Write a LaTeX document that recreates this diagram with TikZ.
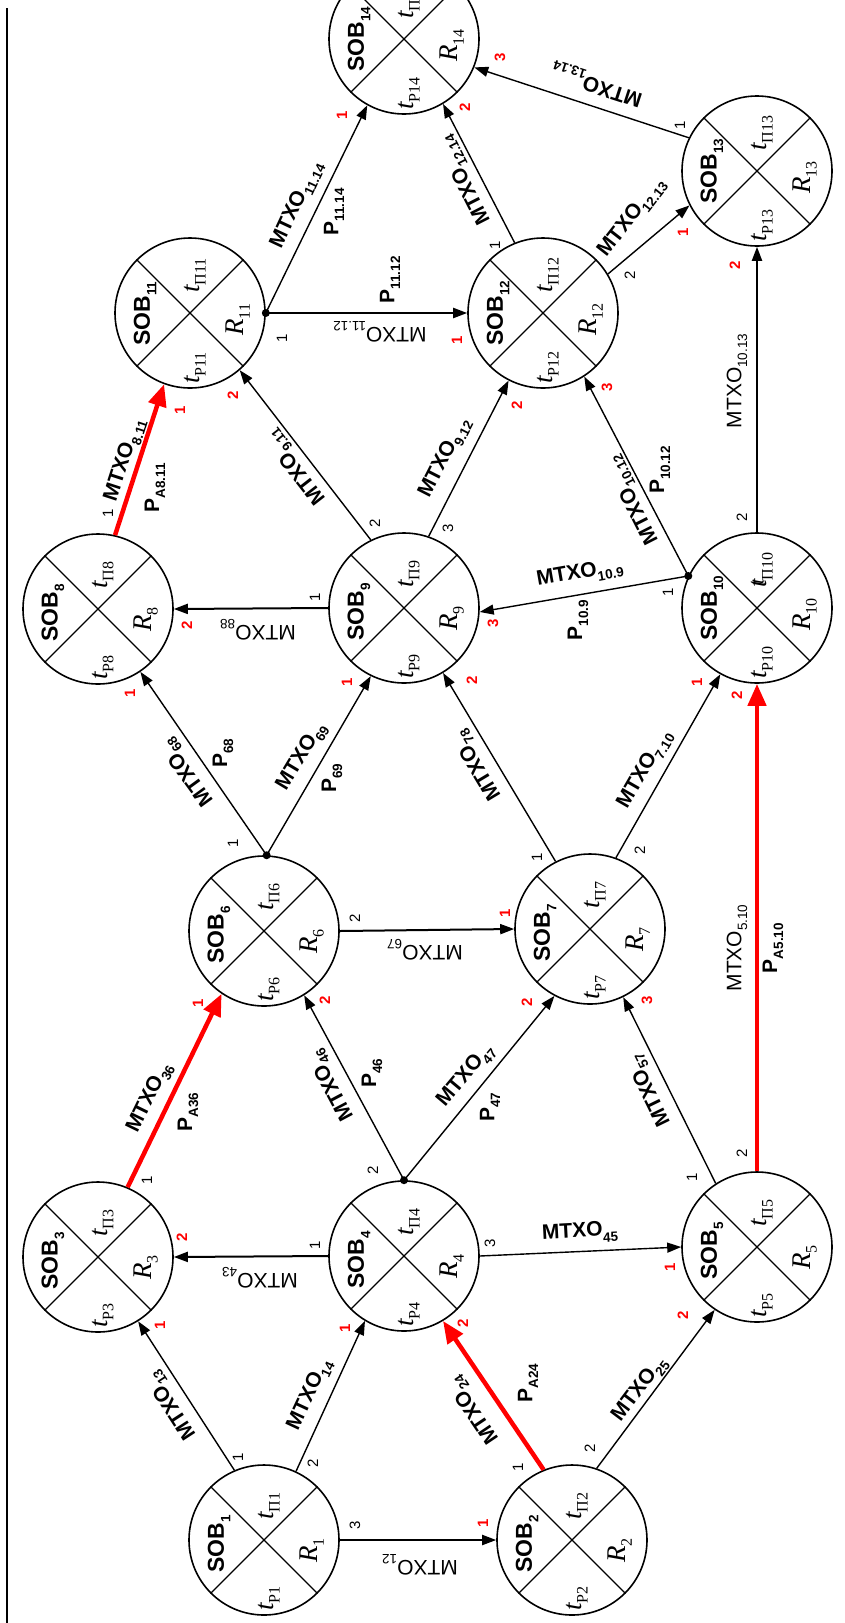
\documentclass[tikz,border=0pt]{standalone}
\usepackage{fontspec}
\setmainfont{Liberation Serif}
\setsansfont{Liberation Sans}
\usetikzlibrary{arrows.meta}
\newcommand{\ls}[1]{\raisebox{-0.28em}{\fontsize{13.5}{13.5}\selectfont #1}}
\newcommand{\vs}[1]{\raisebox{-0.22em}{\fontsize{16}{16}\selectfont\upshape #1}}
\tikzset{
  sob/.style={circle, draw, line width=1.6pt, minimum size=150pt, inner sep=0pt},
  conn/.style={line width=1.4pt, -{Triangle[length=14pt,width=10pt]}},
  connh/.style={line width=2pt, -{Triangle[length=14pt,width=10pt]}},
  redconn/.style={draw=red, line width=4.5pt, -{Triangle[length=22pt,width=18pt]}},
  mtxo/.style={font=\sffamily\bfseries\fontsize{21}{21}\selectfont, inner sep=0pt},
  mtxor/.style={font=\sffamily\fontsize{21}{21}\selectfont, inner sep=0pt},
  plab/.style={font=\sffamily\bfseries\fontsize{21}{21}\selectfont, inner sep=0pt, rotate=90},
  port/.style={font=\sffamily\fontsize{15}{15}\selectfont, inner sep=0pt, rotate=90},
  rport/.style={font=\sffamily\bfseries\fontsize{15}{15}\selectfont, text=red, inner sep=0pt, rotate=90},
  soblab/.style={font=\sffamily\bfseries\fontsize{23}{23}\selectfont, inner sep=0pt, rotate=90, anchor=west},
  varlab/.style={font=\itshape\fontsize{27}{27}\selectfont, inner sep=0pt, rotate=90, anchor=west},
}
\newcommand{\sobnode}[4]{%
  \node[sob] (#1) at (#2,#3) {};
  \draw[line width=1.3pt] (#1.45) -- (#1.225) (#1.135) -- (#1.-45);
  \node[soblab] (#1sob) at (#2-45,#3+33) {SOB\ls{#4}};
  \node[varlab] (#1tp) at (#2+5,#3-20) {t\vs{П#4}};
  \node[varlab] (#1r) at (#2+48,#3+23) {R\vs{#4}};
  \node[varlab] (#1tr) at (#2+5,#3+71) {t\vs{P#4}};
}
\begin{document}
\begin{tikzpicture}[x=1pt,y=-1pt]
\useasboundingbox (0,0) rectangle (845,1623);
\clip (0,0) rectangle (845,1623);
\fill[white] (0,0) rectangle (845,1623);
\coordinate (ft) at (7,8);
\coordinate (fb) at (7,1623);
\draw[line width=1.6pt] (ft) -- (fb);

\sobnode{s1}{264}{1540}{1}
\sobnode{s2}{572}{1540}{2}
\sobnode{s3}{98}{1257}{3}
\sobnode{s4}{404}{1256}{4}
\sobnode{s5}{757}{1247}{5}
\sobnode{s6}{264}{931}{6}
\sobnode{s7}{590}{929}{7}
\sobnode{s8}{98}{609}{8}
\sobnode{s9}{404}{608}{9}
\sobnode{s10}{757}{608}{10}
\sobnode{s11}{190}{313}{11}
\sobnode{s12}{543}{313}{12}
\sobnode{s13}{757}{171}{13}
\sobnode{s14}{404}{39}{14}
\node[varlab, anchor=center, font=\itshape\fontsize{20}{20}\selectfont] (s10x) at (758,582) {t};

\coordinate (d4) at (s4.90);
\coordinate (d6) at (s6.88);
\coordinate (d10) at (s10.155);
\coordinate (d11) at (s11.0);
\foreach \d in {d4,d6,d10,d11} \fill (\d) circle (4pt);

% connectors
\draw[conn] (s1.113) -- (s3.-58);
\draw[conn] (s1.65) -- (s4.-121);
\draw[connh] (s1.0) -- (s2.180);
\draw[redconn] (s2.112) -- (s4.-59);
\draw[conn] (s2.71) -- (s5.-124);
\draw[connh] (s4.180) -- (s3.0);
\draw[conn] (s4.0) -- (s5.180);
\draw[conn] (d4) -- (s6.-58);
\draw[conn] (d4) -- (s7.-118);
\draw[conn] (s5.123) -- (s7.-64);
\draw[redconn] (s5.90) -- (s10.-90);
\draw[connh] (s6.0) -- (s7.180);
\draw[redconn] (s3.67) -- (s6.-124);
\draw[conn] (d6) -- (s8.-56);
\draw[conn] (d6) -- (s9.-116);
\draw[conn] (s7.117) -- (s9.-59);
\draw[conn] (s7.70) -- (s10.-119);
\draw[connh] (s9.180) -- (s8.0);
\draw[redconn] (s8.77) -- (s11.-110);
\draw[conn] (s9.116) -- (s11.-49);
\draw[conn] (s9.71) -- (s12.-117);
\draw[conn] (d10) -- (s9.-3);
\draw[conn] (d10) -- (s12.-57);
\draw[connh] (s10.90) -- (s13.-90);
\draw[connh] (d11) -- (s12.180);
\draw[conn] (d11) -- (s14.-119);
\draw[conn] (s12.112) -- (s14.-59);
\draw[conn] (s12.31) -- (s13.-153);
\draw[conn] (s13.154) -- (s14.-22);

% edge labels
\node[mtxo, rotate=123] (m13) at (172,1405) {MTXO\ls{13}};
\node[mtxo, rotate=65] (m14) at (310,1395) {MTXO\ls{14}};
\node[mtxor, rotate=180] (m12) at (420,1565) {MTXO\ls{12}};
\node[mtxo, rotate=124] (m24) at (474,1410) {MTXO\ls{24}};
\node[plab] (p24) at (528,1383) {P\ls{A24}};
\node[mtxo, rotate=53] (m25) at (640,1390) {MTXO\ls{25}};
\node[mtxor, rotate=180] (m43) at (260,1278) {MTXO\ls{43}};
\node[mtxo, rotate=3] (m45) at (580,1233) {MTXO\ls{45}};
\node[mtxo, rotate=118] (m46) at (332,1085) {MTXO\ls{46}};
\node[plab] (p46) at (372,1073) {P\ls{46}};
\node[mtxo, rotate=50] (m47) at (466,1076) {MTXO\ls{47}};
\node[plab] (p47) at (490,1107) {P\ls{47}};
\node[mtxo, rotate=116] (m57) at (650,1090) {MTXO\ls{57}};
\node[mtxor, rotate=90] (m510) at (737,948) {MTXO\ls{5.10}};
\node[plab] (p510) at (773,948) {P\ls{A5.10}};
\node[mtxor, rotate=180] (m67) at (425,950) {MTXO\ls{67}};
\node[mtxo, rotate=64] (m36) at (150,1098) {MTXO\ls{36}};
\node[plab] (p36) at (188,1112) {P\ls{A36}};
\node[mtxo, rotate=126] (m68) at (188,772) {MTXO\ls{68}};
\node[plab] (p68) at (223,753) {P\ls{68}};
\node[mtxo, rotate=59] (m69) at (302,757) {MTXO\ls{69}};
\node[plab] (p69) at (332,778) {P\ls{69}};
\node[mtxo, rotate=121] (m78) at (478,765) {MTXO\ls{78}};
\node[mtxo, rotate=60] (m710) at (645,770) {MTXO\ls{7.10}};
\node[mtxor, rotate=180] (m98) at (258,630) {MTXO\ls{88}};
\node[mtxo, rotate=72] (m811) at (125,460) {MTXO\ls{8.11}};
\node[plab] (p811) at (155,488) {P\ls{A8.11}};
\node[mtxo, rotate=128] (m911) at (296,467) {MTXO\ls{9.11}};
\node[mtxo, rotate=63] (m912) at (445,458) {MTXO\ls{9.12}};
\node[mtxo, rotate=10] (m109) at (580,574) {MTXO\ls{10.9}};
\node[plab] (p109) at (578,620) {P\ls{10.9}};
\node[mtxo, rotate=117] (m1012) at (633,500) {MTXO\ls{10.12}};
\node[plab] (p1012) at (660,470) {P\ls{10.12}};
\node[mtxor, rotate=90] (m1013) at (737,381) {MTXO\ls{10.13}};
\node[mtxor, rotate=180] (m1112) at (380,332) {MTXO\ls{11.12}};
\node[plab] (p1112) at (390,280) {P\ls{11.12}};
\node[mtxo, rotate=65] (m1114) at (297,205) {MTXO\ls{11.14}};
\node[plab] (p1114) at (334,212) {P\ls{11.14}};
\node[mtxo, rotate=117] (m1214) at (465,180) {MTXO\ls{12.14}};
\node[mtxo, rotate=52] (m1213) at (632,218) {MTXO\ls{12.13}};
\node[mtxo, rotate=162] (m1314) at (597,84) {MTXO\ls{13.14}};

% black port numbers
\node[port] (b1a) at (238,1457) {1};
\node[port] (b1b) at (313,1463) {2};
\node[port] (b1c) at (355,1525) {3};
\node[port] (b2a) at (518,1467) {1};
\node[port] (b2b) at (590,1448) {2};
\node[port] (b3a) at (147,1180) {1};
\node[port] (b4a) at (315,1245) {1};
\node[port] (b4b) at (373,1170) {2};
\node[port] (b4c) at (490,1243) {3};
\node[port] (b5a) at (692,1177) {1};
\node[port] (b5b) at (742,1153) {2};
\node[port] (b6a) at (233,843) {1};
\node[port] (b6b) at (355,918) {2};
\node[port] (b7a) at (537,857) {1};
\node[port] (b7b) at (640,850) {2};
\node[port] (b8a) at (108,513) {1};
\node[port] (b9a) at (315,597) {1};
\node[port] (b9b) at (375,523) {2};
\node[port] (b9c) at (448,528) {3};
\node[port] (b10a) at (668,592) {1};
\node[port] (b10b) at (742,517) {2};
\node[port] (b11a) at (282,338) {1};
\node[port] (b12a) at (495,245) {1};
\node[port] (b12b) at (630,275) {2};
\node[port] (b13a) at (680,125) {1};

% red port numbers
\node[rport] (r3a) at (160,1325) {1};
\node[rport] (r3b) at (182,1237) {2};
\node[rport] (r4a) at (345,1328) {1};
\node[rport] (r4b) at (463,1323) {2};
\node[rport] (r2a) at (483,1523) {1};
\node[rport] (r5b) at (683,1315) {2};
\node[rport] (r5a) at (670,1267) {1};
\node[rport] (r6a) at (198,1003) {1};
\node[rport] (r6b) at (325,1000) {2};
\node[rport] (r7a) at (505,913) {1};
\node[rport] (r7b) at (527,1002) {2};
\node[rport] (r7c) at (647,1000) {3};
\node[rport] (r8a) at (130,693) {1};
\node[rport] (r8b) at (187,625) {2};
\node[rport] (r9a) at (347,682) {1};
\node[rport] (r9b) at (472,680) {2};
\node[rport] (r9c) at (493,623) {3};
\node[rport] (r10a) at (697,682) {1};
\node[rport] (r10b) at (737,695) {2};
\node[rport] (r11a) at (180,410) {1};
\node[rport] (r11b) at (233,395) {2};
\node[rport] (r12a) at (457,340) {1};
\node[rport] (r12b) at (517,405) {2};
\node[rport] (r12c) at (607,387) {3};
\node[rport] (r13a) at (683,232) {1};
\node[rport] (r13b) at (735,265) {2};
\node[rport] (r14a) at (342,115) {1};
\node[rport] (r14b) at (465,107) {2};
\node[rport] (r14c) at (500,57) {3};
\end{tikzpicture}
\end{document}
